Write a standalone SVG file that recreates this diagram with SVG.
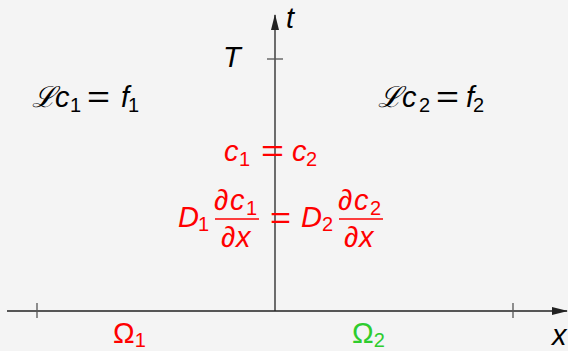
<svg xmlns="http://www.w3.org/2000/svg" width="568" height="351" viewBox="0 0 568 351">
<style>
.m{font-family:"Liberation Sans",Arial,sans-serif;font-style:italic;font-size:29px;fill:#000}
.r{fill:#ff0000}
.g{fill:#2ecc2e}
.u{font-style:normal}
.s{font-size:20px;font-style:normal}
.L{font-family:"DejaVu Serif",serif;font-style:italic;font-size:29px}
.ax{stroke:#222;stroke-width:1.3;fill:none}
.tk{stroke:#555;stroke-width:1.3}
.fb{stroke:#ff0000;stroke-width:1.5}
</style>
<defs>
<marker id="ah" markerWidth="16" markerHeight="8" refX="15" refY="4" orient="auto" markerUnits="userSpaceOnUse">
<path d="M0,0 L16,4 L0,8 Z" fill="#222"/>
</marker>
</defs>
<rect width="568" height="351" fill="#f4f4f4"/>
<g id="connectors">
<line class="ax" x1="275" y1="311" x2="275" y2="15" marker-end="url(#ah)"/>
<line class="ax" x1="7" y1="311" x2="567" y2="311" marker-end="url(#ah)"/>
<line class="tk" x1="267" y1="59" x2="283" y2="59"/>
<line class="tk" x1="37" y1="303" x2="37" y2="318"/>
<line class="tk" x1="513" y1="303" x2="513" y2="318"/>
</g>
<g id="labels">
<text class="m" x="286" y="28">t</text>
<text class="m" x="223" y="67">T</text>
<text class="m" x="552" y="345">x</text>
<text class="m r u" x="113" y="343">Ω<tspan class="s" dy="4">1</tspan></text>
<text class="m g u" x="352" y="343">Ω<tspan class="s" dy="4">2</tspan></text>
</g>
<g id="eq1">
<text class="m" y="107"><tspan class="L" x="32">ℒ</tspan><tspan x="55">c</tspan><tspan class="s" x="70" dy="5">1</tspan></text>
<text class="m u" x="87" y="107" textLength="23" lengthAdjust="spacingAndGlyphs">=</text>
<text class="m" y="107"><tspan x="121">f</tspan><tspan class="s" x="128" dy="5">1</tspan></text>
</g>
<g id="eq2">
<text class="m" y="107"><tspan class="L" x="378">ℒ</tspan><tspan x="402">c</tspan><tspan class="s" x="419" dy="5">2</tspan></text>
<text class="m u" x="436" y="107" textLength="23" lengthAdjust="spacingAndGlyphs">=</text>
<text class="m" y="107"><tspan x="466">f</tspan><tspan class="s" x="473" dy="5">2</tspan></text>
</g>
<g id="cont">
<text class="m r" y="161"><tspan x="224">c</tspan><tspan class="s" x="239" dy="5">1</tspan></text>
<text class="m r u" x="261" y="161" textLength="23" lengthAdjust="spacingAndGlyphs">=</text>
<text class="m r" y="161"><tspan x="292">c</tspan><tspan class="s" x="306" dy="5">2</tspan></text>
</g>
<g id="flux">
<text class="m r" x="178" y="227">D</text>
<text class="m r s" x="198" y="231">1</text>
<text class="m r" y="210"><tspan x="214">∂</tspan><tspan x="230">c</tspan><tspan class="s" x="246" dy="5">1</tspan></text>
<line class="fb" x1="215" y1="219" x2="259" y2="219"/>
<text class="m r" y="247"><tspan x="221">∂</tspan><tspan x="236">x</tspan></text>
<text class="m r u" x="270" y="228" textLength="21" lengthAdjust="spacingAndGlyphs">=</text>
<text class="m r" x="301" y="227">D</text>
<text class="m r s" x="322" y="231">2</text>
<text class="m r" y="210"><tspan x="338">∂</tspan><tspan x="354">c</tspan><tspan class="s" x="370" dy="5">2</tspan></text>
<line class="fb" x1="339" y1="219" x2="383" y2="219"/>
<text class="m r" y="247"><tspan x="344">∂</tspan><tspan x="359">x</tspan></text>
</g>
</svg>
